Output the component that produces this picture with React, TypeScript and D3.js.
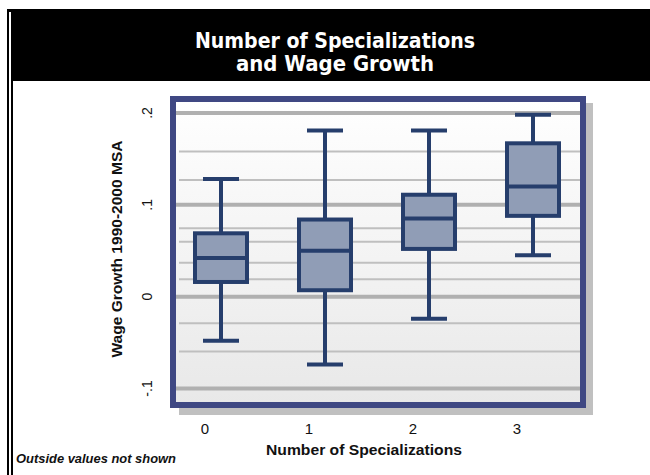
import React from "react";
import * as d3 from "d3";

const categories = ["0", "1", "2", "3"];
const whiskerLow = [-0.048, -0.074, -0.024, 0.045];
const q1 = [0.016, 0.007, 0.052, 0.088];
const median = [0.042, 0.05, 0.085, 0.12];
const q3 = [0.069, 0.084, 0.111, 0.167];
const whiskerHigh = [0.128, 0.181, 0.181, 0.198];
const majorTicks = [-0.1, 0, 0.1, 0.2];
const majorTickLabels = ["-.1", "0", ".1", ".2"];
const minorGrid = [0.158, 0.127, 0.0745, 0.0597, 0.037, 0.019, -0.029, -0.0596];

const FONT = "'Liberation Sans', Arial, sans-serif";
const TITLE_FONT = "'DejaVu Sans Condensed', 'DejaVu Sans', sans-serif";

export default function App() {
  const y = d3.scaleLinear().domain([-0.1, 0.2]).range([388.5, 113]);
  const x = d3.scalePoint<string>().domain(categories).range([221, 533]);
  const boxW = 52;
  const capW = 36;
  const navy = "#263e6c";
  const frame = "#3f4883";

  return (
    <svg width={650} height={475} style={{ position: "absolute", left: 0, top: 0 }}>
      <defs>
        <linearGradient id="bg" x1="0" y1="0" x2="0" y2="1">
          <stop offset="0" stopColor="#ffffff" />
          <stop offset="1" stopColor="#e8e8e8" />
        </linearGradient>
      </defs>
      <rect x={0} y={0} width={650} height={475} fill="#ffffff" />
      {/* left double rule */}
      <rect x={7} y={9} width={2} height={466} fill="#000" />
      <rect x={11} y={12} width={2} height={463} fill="#000" />
      {/* title band */}
      <rect x={11} y={9} width={639} height={72} fill="#000" />
      <rect x={7} y={9} width={4} height={3} fill="#000" />
      <text x={335} y={48} textAnchor="middle" fill="#fff" fontFamily={TITLE_FONT} fontWeight="bold" fontSize={21}
        textLength={280} lengthAdjust="spacingAndGlyphs">
        Number of Specializations
      </text>
      <text x={335} y={71} textAnchor="middle" fill="#fff" fontFamily={TITLE_FONT} fontWeight="bold" fontSize={21}
        textLength={198} lengthAdjust="spacingAndGlyphs">
        and Wage Growth
      </text>

      {/* shadow */}
      <rect x={179} y={103} width={414} height={312} fill="#c0c0c0" />
      {/* plot background */}
      <rect x={173} y={99} width={410} height={306} fill="url(#bg)" />

      {/* minor grid */}
      {minorGrid.map((v, i) => (
        <line key={"mg" + i} x1={179} x2={580} y1={y(v)} y2={y(v)} stroke="#bfbfbf" strokeWidth={2} />
      ))}
      {/* major grid */}
      {majorTicks.map((v, i) => (
        <line key={"Mg" + i} x1={173} x2={583} y1={y(v)} y2={y(v)} stroke="#b0b0b0" strokeWidth={4} />
      ))}

      {/* frame */}
      <rect x={173} y={99} width={410} height={306} fill="none" stroke={frame} strokeWidth={6} />

      {/* boxes */}
      {categories.map((c, i) => {
        const cx = x(c)!;
        return (
          <g key={"b" + c} stroke={navy} strokeWidth={4}>
            <line x1={cx} x2={cx} y1={y(whiskerHigh[i])} y2={y(q3[i])} />
            <line x1={cx} x2={cx} y1={y(q1[i])} y2={y(whiskerLow[i])} />
            <line x1={cx - capW / 2} x2={cx + capW / 2} y1={y(whiskerHigh[i])} y2={y(whiskerHigh[i])} />
            <line x1={cx - capW / 2} x2={cx + capW / 2} y1={y(whiskerLow[i])} y2={y(whiskerLow[i])} />
            <rect x={cx - boxW / 2} y={y(q3[i])} width={boxW} height={y(q1[i]) - y(q3[i])} fill="#909db6" />
            <line x1={cx - boxW / 2} x2={cx + boxW / 2} y1={y(median[i])} y2={y(median[i])} />
          </g>
        );
      })}

      {/* y tick labels */}
      {majorTicks.map((v, i) => (
        <text
          key={"yt" + i}
          transform={`translate(152,${y(v)}) rotate(-90)`}
          textAnchor="middle"
          fontFamily={FONT}
          fontSize={14}
          fill="#111"
        >
          {majorTickLabels[i]}
        </text>
      ))}
      {/* y title */}
      <text
        transform={`translate(122,249) rotate(-90)`}
        textAnchor="middle"
        fontFamily={FONT}
        fontWeight="bold"
        fontSize={15.5}
        textLength={217}
        lengthAdjust="spacingAndGlyphs"
        fill="#111"
      >
        Wage Growth 1990-2000 MSA
      </text>

      {/* x tick labels */}
      {categories.map((c) => (
        <text key={"xt" + c} x={x(c)! - 16} y={434} textAnchor="middle" fontFamily={FONT} fontSize={15} fill="#111">
          {c}
        </text>
      ))}
      <text x={364} y={455} textAnchor="middle" fontFamily={FONT} fontWeight="bold" fontSize={15.5}
        textLength={196} lengthAdjust="spacingAndGlyphs" fill="#111">
        Number of Specializations
      </text>
      <text x={16} y={463} fontFamily={FONT} fontWeight="bold" fontStyle="italic" fontSize={13}
        textLength={160} lengthAdjust="spacingAndGlyphs" fill="#111">
        Outside values not shown
      </text>
    </svg>
  );
}
